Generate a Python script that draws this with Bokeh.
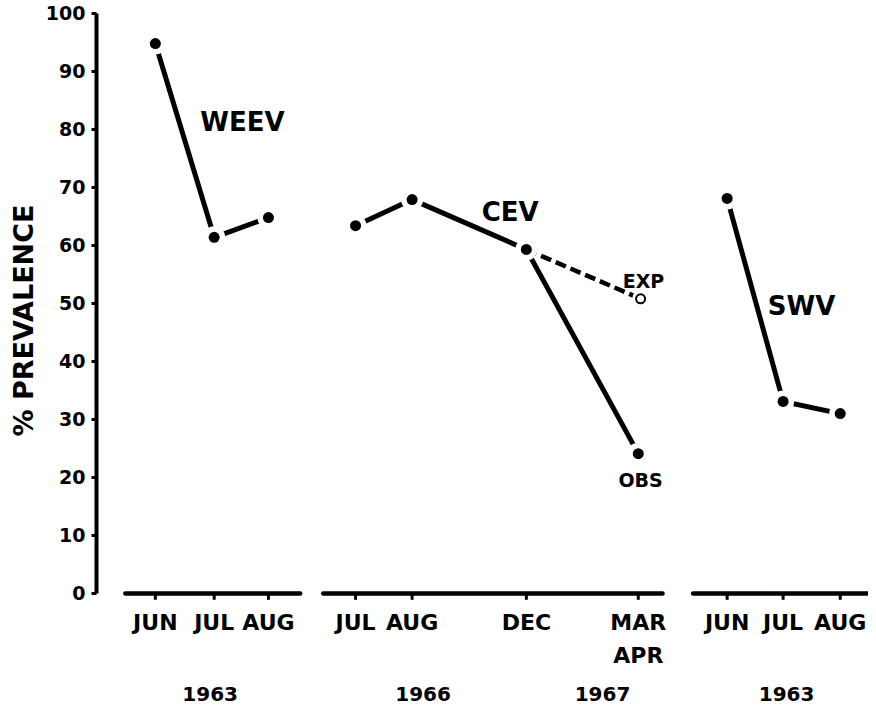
from bokeh.plotting import figure
from bokeh.models import Range1d, FixedTicker, Title
from bokeh.core.properties import value
from bokeh.embed import file_html
from bokeh.resources import INLINE

FONT = "DejaVu Sans"

# ---- data (x = position of each month along the broken time axis, in month slots) ----
weev_x = [0.0, 1.02, 1.96]          # JUN JUL AUG 1963
weev_y = [94.8, 61.4, 64.8]

cev_x = [3.47, 4.45, 6.43, 8.37]    # JUL AUG 1966, DEC 1966, MAR/APR 1967
cev_obs = [63.4, 67.9, 59.3, 24.1]
cev_exp_x = [6.43, 8.41]
cev_exp = [59.3, 50.8]

swv_x = [9.91, 10.88, 11.87]        # JUN JUL AUG 1963
swv_y = [68.1, 33.1, 31.0]

month_x = weev_x + cev_x + swv_x
month_labels = ["JUN", "JUL", "AUG", "JUL", "AUG", "DEC", "MAR\nAPR", "JUN", "JUL", "AUG"]

year_labels = ["1963", "1966", "1967", "1963"]
year_x = [0.95, 4.64, 7.75, 10.94]

y_ticks = list(range(0, 101, 10))

# broken baseline pieces (one per group)
base_x0 = [-0.52, 2.91, 9.32]
base_x1 = [2.51, 8.79, 12.34]

series_labels = ["WEEV", "CEV", "SWV"]
series_lx = [1.51, 6.15, 11.2]
series_ly = [81.2, 65.7, 49.6]

p = figure(width=868, height=708,
           x_range=Range1d(-1.02, 12.36), y_range=Range1d(-19.84, 100.5),
           output_backend="svg", toolbar_location=None, x_axis_location=None,
           min_border_left=96, min_border_right=0, min_border_top=10, min_border_bottom=0)
p.outline_line_color = None
p.grid.visible = False
p.background_fill_color = "white"

ax = p.yaxis[0]
ax.ticker = FixedTicker(ticks=y_ticks)
ax.bounds = (0, 100)
ax.axis_line_width = 4
ax.axis_line_color = "black"
ax.major_tick_line_width = 3
ax.major_tick_out = 5
ax.major_tick_in = 0
ax.minor_tick_line_color = None
ax.major_label_standoff = 6
ax.major_label_text_font = FONT
ax.major_label_text_font_style = "bold"
ax.major_label_text_font_size = "19px"
ax.major_label_text_color = "black"

# y-axis title, as a side title so that it can sit off-centre like the original
p.add_layout(Title(text="% PREVALENCE", align="left", offset=272, standoff=8,
                   text_font=FONT, text_font_style="bold", text_font_size="27px",
                   text_color="black"), "left")

# baseline pieces and month ticks
p.segment(x0=base_x0, y0=[0] * 3, x1=base_x1, y1=[0] * 3,
          line_width=4.5, line_color="black", line_cap="round")
p.segment(x0=month_x, y0=[0] * len(month_x), x1=month_x, y1=[-1.1] * len(month_x),
          line_width=3, line_color="black")

# series lines
p.line(weev_x, weev_y, line_width=5, line_color="black", line_cap="round", line_join="round")
p.line(cev_x, cev_obs, line_width=5, line_color="black", line_cap="round", line_join="round")
p.line(cev_exp_x, cev_exp, line_width=4.5, line_color="black", line_dash="11 5")
p.line(swv_x, swv_y, line_width=5, line_color="black", line_cap="round", line_join="round")

# gaps round the points, then the points
all_x = weev_x + cev_x + swv_x
all_y = weev_y + cev_obs + swv_y
p.scatter(all_x, all_y, size=22, fill_color="white", line_color=None)
p.scatter(all_x, all_y, size=11, fill_color="black", line_color=None)
p.scatter(cev_exp_x[1:], cev_exp[1:], size=17, fill_color="white", line_color=None)
p.scatter(cev_exp_x[1:], cev_exp[1:], size=9, fill_color="white", line_color="black", line_width=2)

# series names
p.text(series_lx, series_ly, text=series_labels, text_font=value(FONT), text_font_style="bold",
       text_font_size="26px", text_align="center", text_baseline="middle", text_color="black")
p.text([8.46, 8.41], [53.9, 19.5], text=["EXP", "OBS"], text_font=value(FONT), text_font_style="bold",
       text_font_size="19px", text_align="center", text_baseline="middle", text_color="black")

# month and year labels
p.text(month_x, [-2.8] * len(month_x), text=month_labels, text_font=value(FONT),
       text_font_style="bold", text_font_size="22px", text_align="center",
       text_baseline="top", text_line_height=1.35, text_color="black")
p.text(year_x, [-17.4] * len(year_x), text=year_labels, text_font=value(FONT),
       text_font_style="bold", text_font_size="20px", text_align="center",
       text_baseline="middle", text_color="black")

open("out.html", "w").write(file_html(p, INLINE))
